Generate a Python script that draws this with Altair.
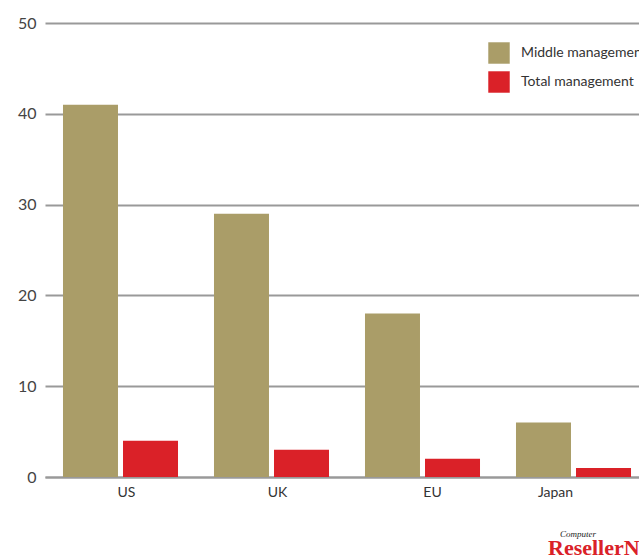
import altair as alt
import pandas as pd

regions = ["US", "UK", "EU", "Japan"]
middle = [41, 29, 18, 6]
total = [4, 3, 2, 1]
series_names = ["Middle management", "Total management"]
colors = ["#AA9D68", "#DA2128"]

rows = []
for r, m, t in zip(regions, middle, total):
    rows.append({"region": r, "series": series_names[0], "value": m})
    rows.append({"region": r, "series": series_names[1], "value": t})
df = pd.DataFrame(rows)

FONT = "Lato"

bars = alt.Chart(df).mark_bar(size=55).encode(
    x=alt.X("region:N", sort=regions, title=None,
            scale=alt.Scale(paddingInner=0.238, paddingOuter=0.119, range=[0, 604]),
            axis=alt.Axis(labelAngle=0, ticks=False, domain=True, domainColor="#999999",
                          domainWidth=2, labelFont=FONT, labelFontSize=14,
                          labelColor="#333333", labelPadding=15, labelBaseline="middle",
                          labelOffset={"expr": "datum.value == 'Japan' ? -18 : datum.value == 'EU' ? 10 : 6"})),
    xOffset=alt.XOffset("series:N", sort=series_names,
                        scale=alt.Scale(paddingInner=0.083, paddingOuter=0)),
    y=alt.Y("value:Q", title=None,
            scale=alt.Scale(domain=[0, 50]),
            axis=alt.Axis(values=[0, 10, 20, 30, 40, 50], ticks=False, domain=False,
                          grid=True, gridColor="#999999", gridWidth=2,
                          labelFont=FONT, labelFontSize=16, labelColor="#444444",
                          labelPadding=9)),
    color=alt.Color("series:N", sort=series_names,
                    scale=alt.Scale(domain=series_names, range=colors),
                    legend=alt.Legend(title=None, orient="none", legendX=443, legendY=19,
                                      symbolType="square", symbolSize=460,
                                      symbolStrokeWidth=0, labelFont=FONT,
                                      labelFontSize=14, labelColor="#333333",
                                      rowPadding=7, labelOffset=11)),
)

logo_small = alt.Chart(pd.DataFrame({"t": ["Computer"]})).mark_text(
    font="Liberation Serif", fontSize=9, color="#222222", align="left",
    fontStyle="italic", baseline="alphabetic"
).encode(x=alt.value(515), y=alt.value(514), text="t:N")

logo = alt.Chart(pd.DataFrame({"t": ["ResellerNews"]})).mark_text(
    font="Liberation Serif", fontSize=22, color="#DA2128", align="left",
    fontWeight="bold", baseline="alphabetic"
).encode(x=alt.value(503), y=alt.value(532), text="t:N")

chart = alt.layer(bars, logo_small, logo).properties(
    width=594, height=454,
    autosize=alt.AutoSizeParams(type="none"),
    padding={"left": 45, "top": 23, "right": 0, "bottom": 80},
    background="white",
).configure_view(stroke=None)

chart.save("out.html", embed_options={"renderer": "svg", "actions": False})
